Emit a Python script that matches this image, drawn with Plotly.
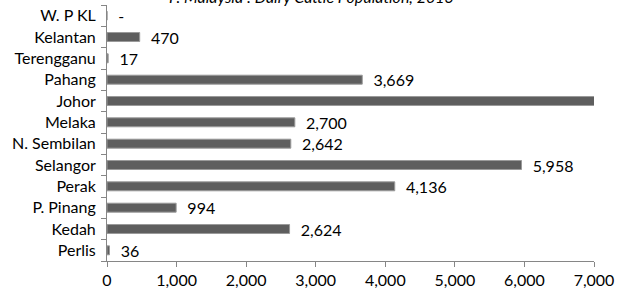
import plotly.graph_objects as go

states = ["Perlis", "Kedah", "P. Pinang", "Perak", "Selangor", "N. Sembilan",
          "Melaka", "Johor", "Pahang", "Terengganu", "Kelantan", "W. P KL"]
cattle = [36, 2624, 994, 4136, 5958, 2642, 2700, 7600, 3669, 17, 470, 0]
x_ticks = [0, 1000, 2000, 3000, 4000, 5000, 6000, 7000]
x_max = 7000
title_text = "P. Malaysia : Dairy Cattle Population, 2013"

labels = []
for v in cattle:
    if v == 0:
        labels.append("\u00a0\u00a0-")
    elif v > x_max:
        labels.append("")
    else:
        labels.append("\u00a0\u00a0" + f"{v:,}")

FONT = "Lato"

fig = go.Figure(go.Bar(
    x=cattle, y=states, orientation="h",
    marker=dict(color="#5e5e5e", line=dict(color="#9a9a9a", width=1)),
    width=0.42,
    text=labels, textposition="outside", constraintext="none",
    textfont=dict(family=FONT, size=16, color="#000000"),
    cliponaxis=True, hoverinfo="skip",
))

fig.update_layout(
    width=619, height=294,
    margin=dict(l=107, r=22, t=5, b=31),
    paper_bgcolor="white", plot_bgcolor="white",
    showlegend=False,
    font=dict(family=FONT, size=16, color="#000000"),
    xaxis=dict(range=[0, x_max], tickvals=x_ticks,
               ticktext=[f"{t:,}" for t in x_ticks],
               showgrid=False, zeroline=False,
               showline=True, linecolor="#868686", linewidth=1,
               ticks="outside", ticklen=5, tickcolor="#868686",
               tickfont=dict(family=FONT, size=16, color="#000000")),
    yaxis=dict(categoryorder="array", categoryarray=states,
               showgrid=False, zeroline=False,
               showline=True, linecolor="#868686", linewidth=1,
               ticks="outside", ticklen=5, tickcolor="#868686",
               tickson="boundaries", ticklabelstandoff=7,
               tickfont=dict(family=FONT, size=16, color="#000000")),
    annotations=[dict(text=f"<i>{title_text}</i>", xref="paper", yref="paper",
                      x=0.42, y=1, xanchor="center", yanchor="bottom",
                      yshift=-3, showarrow=False,
                      font=dict(family=FONT, size=16, color="#000000"))],
)

fig.write_html("out.html", config={"displayModeBar": False},
               post_script="document.body.style.margin='0';")
